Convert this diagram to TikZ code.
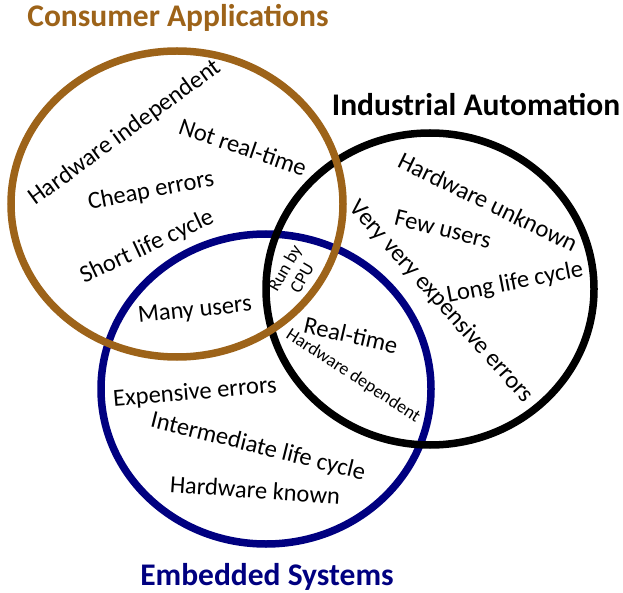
\documentclass[tikz,border=0pt]{standalone}
\usepackage{fontspec}
\setmainfont{Carlito}
\definecolor{cbrown}{RGB}{157,99,25}
\definecolor{cnavy}{RGB}{0,0,128}
\begin{document}
\begin{tikzpicture}[x=1pt,y=-1pt,
  ring/.style={line width=7.5pt},
  lbl/.style={inner sep=0pt,font=\fontsize{24.5}{28}\selectfont},
  small/.style={inner sep=0pt,font=\fontsize{18}{20}\selectfont,align=center},
  ttl/.style={inner sep=0pt,anchor=base,font=\fontsize{31.5}{34}\selectfont\bfseries}]
\useasboundingbox[fill=white] (0,0) rectangle (623,593);
% circles
\draw[ring,cnavy] (266,389) ellipse [x radius=165pt, y radius=155pt];
\draw[ring,black] (430,289) ellipse [x radius=164pt, y radius=156pt];
\draw[ring,cbrown] (177,204) ellipse [x radius=166pt, y radius=153pt];
% titles
\node[ttl,text=cbrown] (tca) at (178,27) {Consumer Applications};
\node[ttl,text=black] (tia) at (476,116) {Industrial Automation};
\node[ttl,text=cnavy] (tes) at (267,585) {Embedded Systems};
% consumer
\node[lbl,rotate=36] (hi) at (125,133) {Hardware independent};
\node[lbl,rotate=-19] (nrt) at (243,147) {Not real-time};
\node[lbl,rotate=11] (ce) at (151,191) {Cheap errors};
\node[lbl,rotate=25] (slc) at (147,247) {Short life cycle};
\node[lbl,rotate=6] (mu) at (195,311) {Many users};
% center
\node[small,rotate=60] (cpu) at (293,273) {Run by\\CPU};
\node[lbl,rotate=-13] (rt) at (351,335) {Real-time};
\node[small,rotate=-33] (hd) at (353,376) {Hardware dependent};
% industrial
\node[lbl,rotate=-48] (vve) at (441,302) {Very very expensive errors};
\node[lbl,rotate=-26] (hu) at (488,202) {Hardware unknown};
\node[lbl,rotate=-14] (fu) at (443,229) {Few users};
\node[lbl,rotate=11] (llc) at (515,283) {Long life cycle};
% embedded
\node[lbl,rotate=5] (ee) at (195,393) {Expensive errors};
\node[lbl,rotate=-14] (ilc) at (258,447) {Intermediate life cycle};
\node[lbl,rotate=-4] (hk) at (255,490) {Hardware known};
\end{tikzpicture}
\end{document}
